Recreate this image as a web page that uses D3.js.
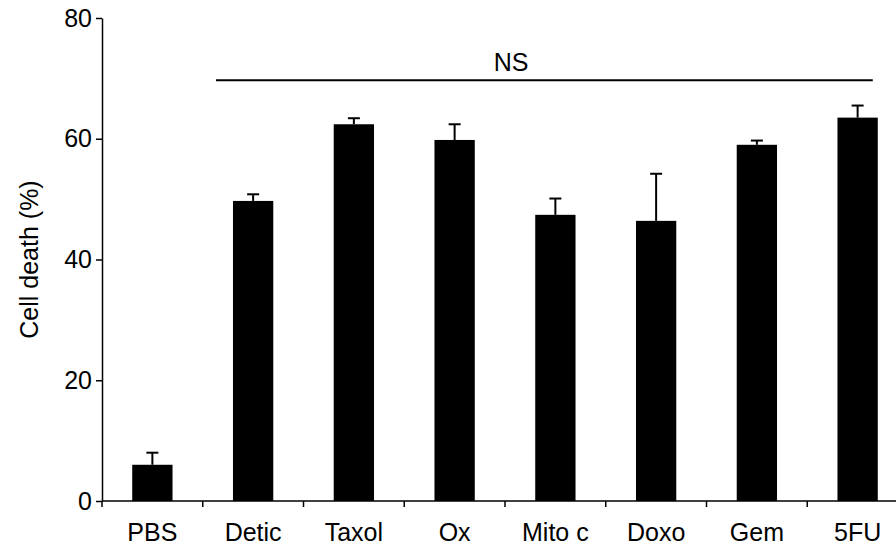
<!DOCTYPE html>
<html>
<head>
<meta charset="utf-8">
<script src="https://cdn.jsdelivr.net/npm/d3@7"></script>
<style>
  html, body { margin: 0; padding: 0; background: #fff; }
  svg { display: block; font-family: "Liberation Sans", Arial, sans-serif; }
</style>
</head>
<body>
<svg id="chart" width="896" height="547"></svg>
<script>
const categories = ["PBS", "Detic", "Taxol", "Ox", "Mito c", "Doxo", "Gem", "5FU"];
const values = [6.0, 49.7, 62.4, 59.8, 47.4, 46.4, 59.0, 63.5];
const errors = [2.0, 1.1, 1.0, 2.6, 2.7, 7.8, 0.7, 2.0];
const yTicks = [0, 20, 40, 60, 80];
const yLabel = "Cell death (%)";
const sigLabel = "NS";
const sigFrom = "Detic", sigTo = "5FU";
const sigValue = 69.7;

const FS = 25;
const svg = d3.select("#chart");
const x0 = 102, xEnd = 908, yTop = 18, yBot = 501;

const x = d3.scaleBand().domain(categories).range([x0, xEnd]).paddingInner(0.6).paddingOuter(0.3);
const y = d3.scaleLinear().domain([0, 80]).range([yBot, yTop]);
const step = x.step();

// Bars
svg.append("g").selectAll("rect").data(categories).join("rect")
  .attr("x", d => x(d))
  .attr("width", x.bandwidth())
  .attr("y", (d, i) => y(values[i]))
  .attr("height", (d, i) => y(0) - y(values[i]))
  .attr("fill", "#000");

// Error bars (upper only)
const eb = svg.append("g").attr("stroke", "#000").attr("stroke-width", 2);
categories.forEach((d, i) => {
  const cx = x(d) + x.bandwidth() / 2;
  eb.append("line").attr("x1", cx).attr("x2", cx).attr("y1", y(values[i])).attr("y2", y(values[i] + errors[i]));
  eb.append("line").attr("x1", cx - 6).attr("x2", cx + 6).attr("y1", y(values[i] + errors[i])).attr("y2", y(values[i] + errors[i]));
});

// Y axis
const yAxis = d3.axisLeft(y).tickValues(yTicks).tickSize(6).tickPadding(4).tickSizeOuter(0);
const gy = svg.append("g").attr("transform", `translate(${x0},0)`).call(yAxis);
gy.attr("font-size", null).attr("font-family", null);
gy.select(".domain").attr("stroke", "#000").attr("stroke-width", 1.5);
gy.selectAll(".tick line").attr("stroke", "#000").attr("stroke-width", 1.5);
gy.selectAll(".tick text").attr("font-size", FS).attr("fill", "#000");

// extend y axis slightly below x axis
svg.append("line").attr("x1", x0).attr("x2", x0).attr("y1", yBot).attr("y2", yBot + 6)
  .attr("stroke", "#000").attr("stroke-width", 1.5);

// X axis
svg.append("line").attr("x1", x0).attr("x2", xEnd).attr("y1", yBot).attr("y2", yBot)
  .attr("stroke", "#000").attr("stroke-width", 1.5);
const xt = svg.append("g");
categories.slice(1).forEach(d => {
  const bx = x(d) + x.bandwidth() / 2 - step / 2;
  xt.append("line").attr("x1", bx).attr("x2", bx).attr("y1", yBot).attr("y2", yBot + 6)
    .attr("stroke", "#000").attr("stroke-width", 1.5);
});
svg.append("g").selectAll("text").data(categories).join("text")
  .attr("x", d => x(d) + x.bandwidth() / 2)
  .attr("y", yBot + 40)
  .attr("text-anchor", "middle")
  .attr("font-size", FS)
  .attr("fill", "#000")
  .text(d => d);

// Y label
svg.append("text")
  .attr("transform", `translate(38,${(yTop + yBot) / 2}) rotate(-90)`)
  .attr("text-anchor", "middle")
  .attr("font-size", FS)
  .attr("fill", "#000")
  .text(yLabel);

// Significance line
const sx1 = x(sigFrom) - 17;
const sx2 = x(sigTo) + x.bandwidth() - 5;
svg.append("line").attr("x1", sx1).attr("x2", sx2).attr("y1", y(sigValue)).attr("y2", y(sigValue))
  .attr("stroke", "#000").attr("stroke-width", 2);
svg.append("text")
  .attr("x", 511)
  .attr("y", y(sigValue) - 9)
  .attr("text-anchor", "middle")
  .attr("font-size", FS)
  .attr("fill", "#000")
  .text(sigLabel);
</script>
</body>
</html>
